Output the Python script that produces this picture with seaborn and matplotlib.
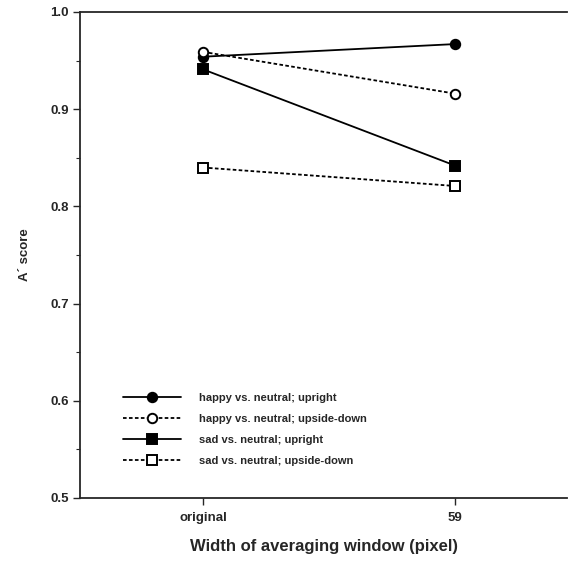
import numpy as np
import pandas as pd
import matplotlib
matplotlib.use('Agg')
import matplotlib.pyplot as plt
import seaborn as sns
from matplotlib.ticker import MultipleLocator, FormatStrFormatter

# Data
windows = ['original', '59']
happy_upright = [0.954, 0.967]
happy_upside = [0.959, 0.916]
sad_upright = [0.941, 0.842]
sad_upside = [0.840, 0.821]

labels = ['happy vs. neutral; upright',
          'happy vs. neutral; upside-down',
          'sad vs. neutral; upright',
          'sad vs. neutral; upside-down']
series = [happy_upright, happy_upside, sad_upright, sad_upside]
styles = [('o', '-', 'black'), ('o', (0, (2, 1.3)), 'white'),
          ('s', '-', 'black'), ('s', (0, (2, 1.3)), 'white')]

sns.set_style('ticks')
plt.rcParams['font.family'] = ['Liberation Sans', 'DejaVu Sans']

fig = plt.figure(figsize=(5.69, 5.62), dpi=100)
ax = fig.add_axes([80 / 569, 1 - 498 / 562, (567 - 80) / 569, (498 - 12) / 562])

for lab, vals, (mk, ls, fc) in zip(labels, series, styles):
    df = pd.DataFrame({'window': windows, 'score': vals})
    sns.lineplot(data=df, x='window', y='score', ax=ax, color='black',
                 marker=mk, linestyle=ls, markerfacecolor=fc,
                 markeredgecolor='black', markeredgewidth=1.4,
                 markersize=6.8, linewidth=1.3, label=lab)

ax.set_xlim(-0.488, 1.444)
ax.set_ylim(0.5, 1.0)
ax.yaxis.set_major_locator(MultipleLocator(0.1))
ax.yaxis.set_minor_locator(MultipleLocator(0.05))
ax.yaxis.set_major_formatter(FormatStrFormatter('%.1f'))

for side in ['left', 'bottom', 'top']:
    ax.spines[side].set_linewidth(1.3)
ax.spines['right'].set_visible(False)
ax.tick_params(axis='both', which='major', direction='out', length=5,
               width=1.0, labelsize=9.5, pad=3)
ax.tick_params(axis='x', which='major', pad=5)
ax.tick_params(axis='y', which='minor', direction='out', length=3, width=0.8)
for t in ax.get_xticklabels() + ax.get_yticklabels():
    t.set_fontweight('bold')

ax.set_xlabel('Width of averaging window (pixel)', fontsize=12,
              fontweight='bold', labelpad=11)
ax.set_ylabel('A\u00b4 score', fontsize=9.5, fontweight='bold', labelpad=14)

leg = ax.legend(loc='upper left', bbox_to_anchor=(113 / 569, 1 - 383 / 562),
                bbox_transform=fig.transFigure, frameon=False,
                handlelength=5.2, handletextpad=1.6, labelspacing=1.0,
                prop={'size': 8, 'weight': 'bold'})

fig.savefig('out.png', dpi=100)
